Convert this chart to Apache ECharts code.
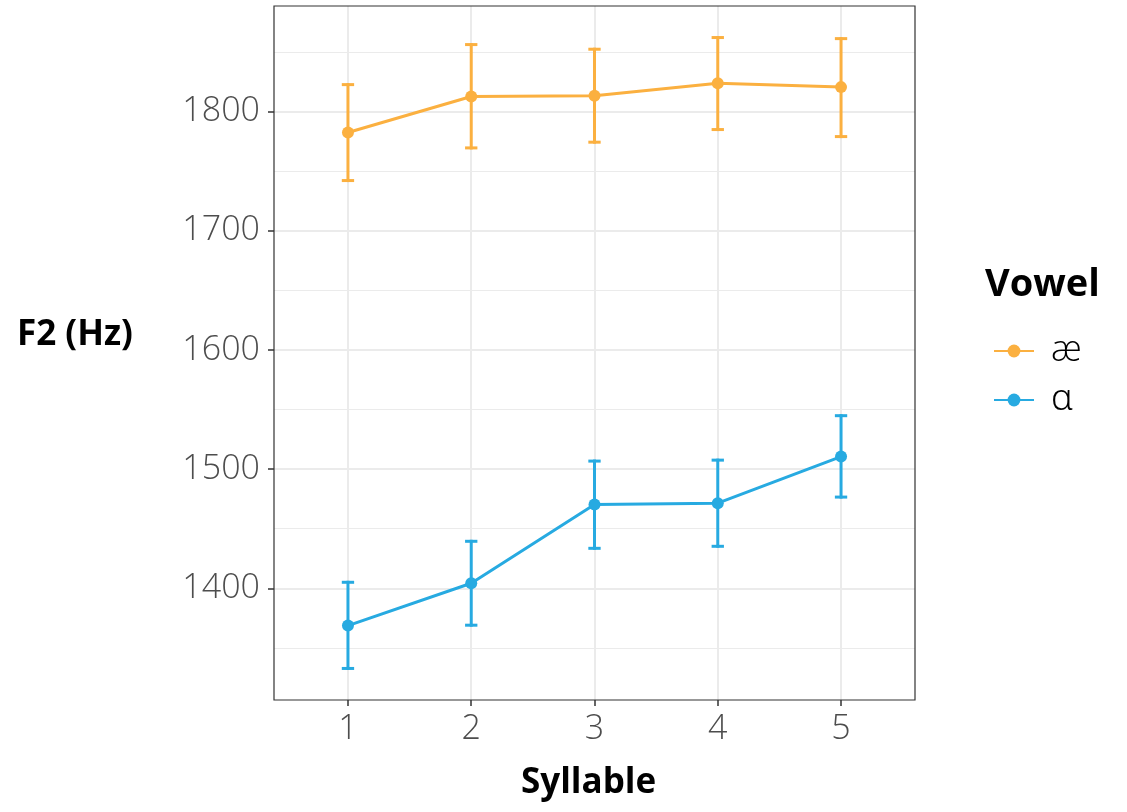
<!DOCTYPE html>
<html>
<head>
<meta charset="utf-8">
<script src="https://cdn.jsdelivr.net/npm/echarts@6/dist/echarts.min.js"></script>
<style>
  html, body { margin: 0; padding: 0; background: #fff; }
  #chart { width: 1127px; height: 812px; }
</style>
</head>
<body>
<div id="chart"></div>
<script>
// Syllable positions and mean F2 with error-bar bounds, per vowel
const syllables = [1, 2, 3, 4, 5];
const vowelNames = ['æ', 'ɑ'];
const aeMean  = [1782.4, 1812.6, 1813.2, 1823.8, 1820.5];
const aeLow   = [1742.1, 1769.5, 1774.3, 1784.9, 1779.0];
const aeHigh  = [1822.6, 1856.2, 1852.3, 1862.1, 1861.2];
const ahMean  = [1368.7, 1404.2, 1470.3, 1471.4, 1510.5];
const ahLow   = [1332.7, 1369.0, 1433.5, 1435.2, 1476.5];
const ahHigh  = [1405.0, 1439.4, 1506.7, 1507.5, 1544.8];
const yTicks  = [1400, 1500, 1600, 1700, 1800];
const yMinor  = [1350, 1450, 1550, 1650, 1750, 1850];

const colors = ['#fbb040', '#27aae1'];
const FONT = '"Open Sans", "Noto Sans", sans-serif';

// axis limits with 5% padding on y and 0.6 unit padding on the discrete x
const yLo = Math.min(...aeLow, ...ahLow), yHi = Math.max(...aeHigh, ...ahHigh);
const yPad = (yHi - yLo) * 0.05;
const yMin = yLo - yPad, yMax = yHi + yPad;
const xMin = syllables[0] - 0.6, xMax = syllables[syllables.length - 1] + 0.6;

const pts = (means) => syllables.map((s, i) => [s, means[i]]);
const bars = (lo, hi) => syllables.map((s, i) => [s, lo[i], hi[i]]);

// vertical error bar with caps 0.1 x-units wide, drawn as filled rectangles
function makeErrorBar(color) {
  return function (params, api) {
    const x = api.value(0);
    const top = api.coord([x, api.value(2)]);
    const bot = api.coord([x, api.value(1)]);
    const l = api.coord([x - 0.05, api.value(1)])[0];
    const r = api.coord([x + 0.05, api.value(1)])[0];
    const w = 3;
    const style = { fill: color, stroke: null };
    return {
      type: 'group',
      children: [
        { type: 'rect', shape: { x: top[0] - w / 2, y: top[1] - w / 2, width: w, height: bot[1] - top[1] + w }, style },
        { type: 'rect', shape: { x: l, y: top[1] - w / 2, width: r - l, height: w }, style },
        { type: 'rect', shape: { x: l, y: bot[1] - w / 2, width: r - l, height: w }, style }
      ]
    };
  };
}

const gridLine = (w) => ({ color: '#ebebeb', width: w, type: 'solid' });

const option = {
  animation: false,
  backgroundColor: '#fff',
  grid: {
    left: 274, right: 212, top: 6, bottom: 112,
    show: true, borderColor: '#333333', borderWidth: 1.2, backgroundColor: 'transparent', z: 10
  },
  xAxis: {
    type: 'value', min: xMin, max: xMax,
    axisLine: { show: false },
    splitLine: { show: false },
    axisTick: { show: true, length: 6, customValues: syllables, lineStyle: { color: '#333333', width: 1.5 } },
    axisLabel: { customValues: syllables, margin: 12, color: '#4d4d4d', fontSize: 34, fontFamily: FONT, fontWeight: 300 }
  },
  yAxis: {
    type: 'value', min: yMin, max: yMax,
    axisLine: { show: false },
    splitLine: { show: false },
    axisTick: { show: true, length: 6, customValues: yTicks, lineStyle: { color: '#333333', width: 1.5 } },
    axisLabel: {
      customValues: yTicks, margin: 14, color: '#4d4d4d', fontSize: 34, fontFamily: FONT, fontWeight: 300,
      formatter: (v) => String(v)
    }
  },
  legend: {
    left: 988, top: 328, orient: 'vertical', itemGap: 13,
    itemWidth: 40, itemHeight: 16,
    data: vowelNames,
    lineStyle: { width: 2 },
    textStyle: { color: '#000', fontSize: 36, fontFamily: FONT, fontWeight: 300, padding: [0, 0, 0, 12] }
  },
  graphic: [
    { type: 'text', left: 985, top: 266, style: { text: 'Vowel', fill: '#000', font: 'bold 38px ' + FONT } },
    { type: 'text', left: 17, top: 318, style: { text: 'F2 (Hz)', fill: '#000', font: 'bold 35px ' + FONT } },
    { type: 'text', left: 521, top: 766, style: { text: 'Syllable', fill: '#000', font: 'bold 35px ' + FONT } }
  ],
  series: [
    {
      name: vowelNames[0], type: 'line', data: pts(aeMean), color: colors[0],
      symbol: 'circle', symbolSize: 12, lineStyle: { width: 3 }, z: 4
    },
    {
      name: vowelNames[1], type: 'line', data: pts(ahMean), color: colors[1],
      symbol: 'circle', symbolSize: 12, lineStyle: { width: 3 }, z: 4
    },
    { name: vowelNames[0], type: 'custom', renderItem: makeErrorBar(colors[0]), data: bars(aeLow, aeHigh), color: colors[0], z: 3 },
    { name: vowelNames[1], type: 'custom', renderItem: makeErrorBar(colors[1]), data: bars(ahLow, ahHigh), color: colors[1], z: 3 },
    {
      name: 'grid', type: 'line', data: [], z: 0, silent: true,
      markLine: {
        z: 0, silent: true, symbol: 'none', label: { show: false },
        data: [
          ...yMinor.map(v => ({ yAxis: v, lineStyle: gridLine(1) })),
          ...yTicks.map(v => ({ yAxis: v, lineStyle: gridLine(2) })),
          ...syllables.map(v => ({ xAxis: v, lineStyle: gridLine(2) }))
        ]
      }
    }
  ]
};

const chart = echarts.init(document.getElementById('chart'), null, { renderer: 'canvas' });
chart.setOption(option);
</script>
</body>
</html>
